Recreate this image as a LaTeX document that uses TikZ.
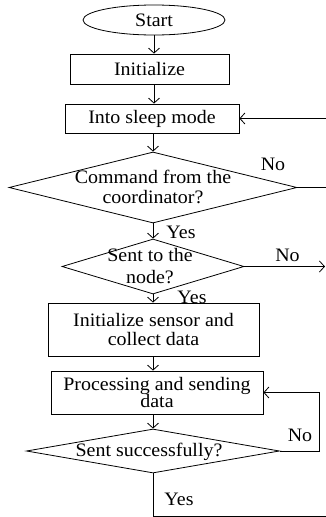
\documentclass[tikz,border=0pt]{standalone}
\usepackage{fontspec}
\setmainfont{Liberation Serif}[FakeStretch=1.05]
\usetikzlibrary{arrows.meta, shapes.geometric, positioning, calc}

\begin{document}
\begin{tikzpicture}[
    x=1pt, y=-1pt,
    every node/.style={font=\fontsize{19}{17.5}\selectfont, inner sep=0pt},
    terminal/.style={ellipse, draw, minimum width=142pt, minimum height=30pt},
    process/.style={rectangle, draw, align=center},
    decision/.style={diamond, draw},
    txt/.style={align=center},
    line width=0.8pt,
    arr/.style={-{Straight Barb[length=5pt, width=11pt, line width=0.8pt]}}
]
\useasboundingbox (0,0) rectangle (326,517);

\node[terminal] (start) at (154,20) {Start};
\node[process, minimum width=159pt, minimum height=30pt] (init) at (149.5,69) {Initialize};
\node[process, minimum width=174pt, minimum height=29pt] (sleep) at (152,118.5) {Into sleep mode};

\node[decision, minimum width=288pt, minimum height=71pt] (cmd) at (153,187.5) {};
\node[txt] (cmdtxt) at (153,187) {Command from the\\[2.5pt]coordinator?};
\node[decision, minimum width=182pt, minimum height=55pt] (sent) at (153,266.5) {};
\node[txt] (senttxt) at (150,266) {Sent to the\\[4.5pt]node?};

\node[process, minimum width=211pt, minimum height=53pt] (sensor) at (153.5,329.5) {Initialize sensor and\\[1.5pt]collect data};
\node[process, minimum width=212pt, minimum height=43pt] (proc) at (157,392.5) {Processing and sending\\data};

\node[decision, minimum width=253pt, minimum height=44pt] (ok) at (153,451) {};
\node[txt] (oktxt) at (149,452) {Sent successfully?};

% free ends at the right border
\coordinate (backin) at (326,118.5);
\coordinate (cmdout) at (326,187.5);
\coordinate (sentout) at (325,266.5);
\coordinate (yesend) at (326,516);

\draw[arr] (start.south) -- (start.south |- init.north);
\draw[arr] (init.south -| start) -- (sleep.north -| start);
\draw[arr] (sleep.south -| cmd) -- (cmd.north);
\draw[arr] (cmd.south) -- (sent.north);
\draw[arr] (sent.south) -- (sent.south |- sensor.north);
\draw[arr] (sensor.south -| sent) -- (proc.north -| sent);
\draw[arr] (proc.south -| ok) -- (ok.north);

\draw[arr] (backin) -- (sleep.east);
\draw (cmd.east) -- (cmdout);
\draw[arr] (sent.east) -- (sentout);
\draw[arr] (ok.east) -- ++(39,0) |- (proc.east);
\draw (ok.south) |- (yesend);

\node (cmdno) at (273,164) {No};
\node (cmdyes) at (181,232) {Yes};
\node (sentno) at (287.5,255) {No};
\node (sentyes) at (192,297) {Yes};
\node (okno) at (300,435) {No};
\node (okyes) at (179,499) {Yes};
\end{tikzpicture}
\end{document}
